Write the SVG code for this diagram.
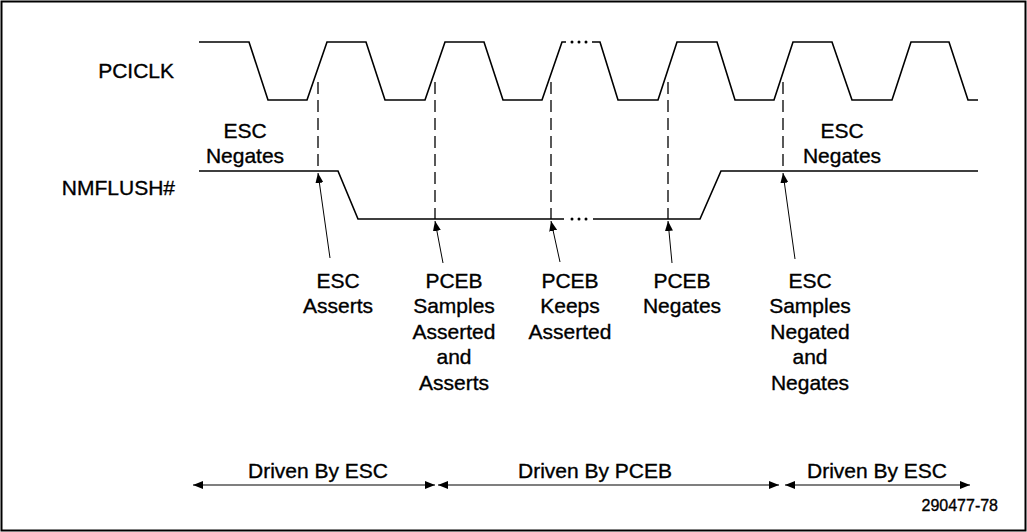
<svg xmlns="http://www.w3.org/2000/svg" width="1027" height="532" viewBox="0 0 1027 532">
<style>
text{font-family:"Liberation Sans",Arial,sans-serif;font-size:21px;fill:#000;stroke:#000;stroke-width:0.35}
.lbl{text-anchor:middle}
.wave{fill:none;stroke:#000;stroke-width:1.6;stroke-linejoin:miter}
.dash{fill:none;stroke:#000;stroke-width:1.3;stroke-dasharray:12 6}
.ptr{fill:none;stroke:#000;stroke-width:1;marker-end:url(#ah)}
.span{fill:none;stroke:#000;stroke-width:1.2;marker-start:url(#ah2);marker-end:url(#ah2)}
</style>
<defs>
<marker id="ah" markerUnits="userSpaceOnUse" markerWidth="10" markerHeight="8" refX="10" refY="4" orient="auto"><path d="M0,0 L10,4 L0,8 z" fill="#000"/></marker>
<marker id="ah2" markerUnits="userSpaceOnUse" markerWidth="10" markerHeight="8" refX="10" refY="4" orient="auto-start-reverse"><path d="M0,0 L10,4 L0,8 z" fill="#000"/></marker>
</defs>
<rect x="1.5" y="1.5" width="1024" height="529" fill="#fff" stroke="#000" stroke-width="2"/>
<g id="pciclk">
<text x="174" y="78" text-anchor="end">PCICLK</text>
<path class="wave" d="M199,42 H249 L268,100 H307 L327,42 H366 L385,100 H425 L445,42 H484 L503,100 H542 L562,42 H566 M592,42 H600 L618,100 H658 L677,42 H717 L735,100 H774 L793,42 H832 L852,100 H892 L911,42 H949 L968,100 H978"/>
<circle cx="572" cy="42" r="1.5"/><circle cx="579" cy="42" r="1.5"/><circle cx="586" cy="42" r="1.5"/>
</g>
<g id="nmflush">
<text x="175" y="195" text-anchor="end">NMFLUSH#</text>
<path class="wave" d="M199,171 H338 L358,219 H564 M593,219 H700 L721,171 H978"/>
<circle cx="572" cy="219" r="1.5"/><circle cx="579" cy="219" r="1.5"/><circle cx="586" cy="219" r="1.5"/>
</g>
<g id="connectors">
<path class="dash" d="M318,82 V171"/>
<path class="dash" d="M435,82 V219"/>
<path class="dash" d="M551,82 V219"/>
<path class="dash" d="M668,82 V219"/>
<path class="dash" d="M783,82 V171"/>
<path class="ptr" d="M330,258 L318,173"/>
<path class="ptr" d="M443,263 L435,221"/>
<path class="ptr" d="M560,262 L551,221"/>
<path class="ptr" d="M672,263 L668,221"/>
<path class="ptr" d="M795,259 L783,173"/>
<path class="span" d="M193,485 H435"/>
<path class="span" d="M438,485 H779"/>
<path class="span" d="M785,485 H970"/>
</g>
<g id="esc-negates-left" class="lbl"><text x="245" y="138">ESC</text><text x="245" y="163">Negates</text></g>
<g id="esc-negates-right" class="lbl"><text x="842" y="138">ESC</text><text x="842" y="163">Negates</text></g>
<g id="esc-asserts" class="lbl"><text x="338" y="288">ESC</text><text x="338" y="313">Asserts</text></g>
<g id="pceb-samples" class="lbl"><text x="454" y="288">PCEB</text><text x="454" y="313">Samples</text><text x="454" y="339">Asserted</text><text x="454" y="364">and</text><text x="454" y="390">Asserts</text></g>
<g id="pceb-keeps" class="lbl"><text x="570" y="288">PCEB</text><text x="570" y="313">Keeps</text><text x="570" y="339">Asserted</text></g>
<g id="pceb-negates" class="lbl"><text x="682" y="288">PCEB</text><text x="682" y="313">Negates</text></g>
<g id="esc-samples" class="lbl"><text x="810" y="288">ESC</text><text x="810" y="313">Samples</text><text x="810" y="339">Negated</text><text x="810" y="364">and</text><text x="810" y="390">Negates</text></g>
<g id="driven-esc-1" class="lbl"><text x="318" y="478">Driven By ESC</text></g>
<g id="driven-pceb" class="lbl"><text x="595" y="478">Driven By PCEB</text></g>
<g id="driven-esc-2" class="lbl"><text x="877" y="478">Driven By ESC</text></g>
<text x="998" y="511" text-anchor="end" style="font-size:16px">290477-78</text>
</svg>
